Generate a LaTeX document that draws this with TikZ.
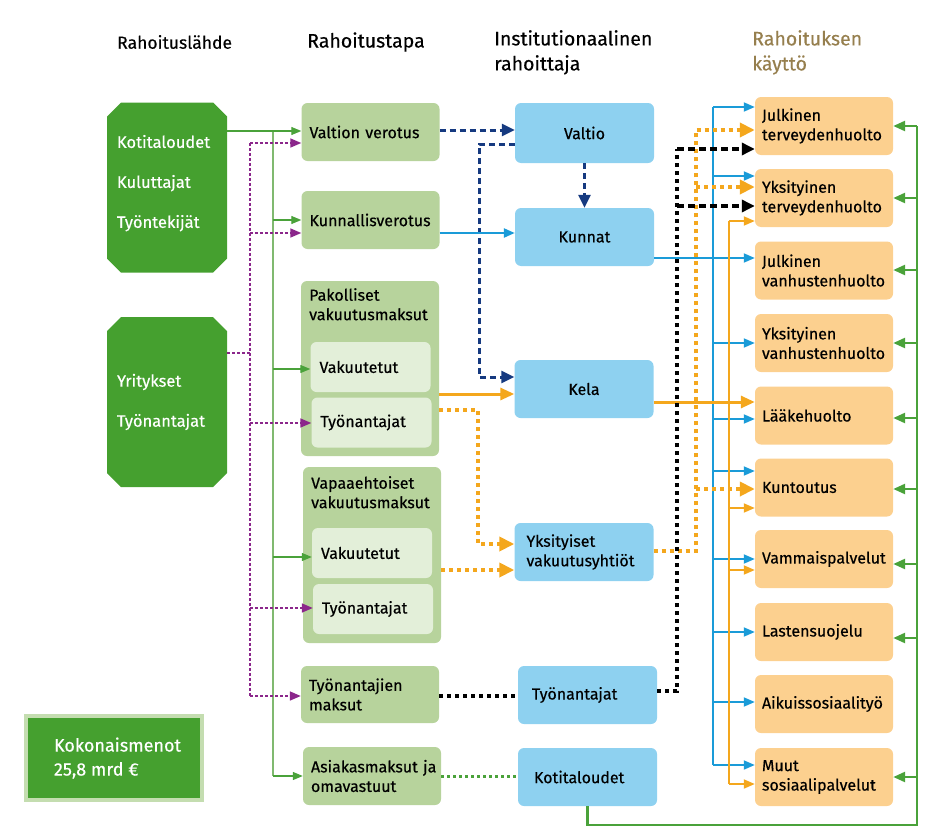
\documentclass[tikz,border=0pt]{standalone}
\usepackage{fontspec}
\setmainfont{Fira Sans}[FakeBold=0.35]
\usetikzlibrary{arrows.meta,shapes.misc,calc}
\definecolor{srcgreen}{RGB}{69,160,47}
\definecolor{totborder}{RGB}{196,221,176}
\definecolor{lgreen}{RGB}{183,211,156}
\definecolor{xlgreen}{RGB}{227,239,217}
\definecolor{lblue}{RGB}{142,209,240}
\definecolor{lorange}{RGB}{252,208,143}
\definecolor{hdrbrown}{RGB}{150,127,78}
\definecolor{cpurple}{RGB}{139,38,139}
\definecolor{cnavy}{RGB}{22,58,128}
\definecolor{cblue}{RGB}{26,155,216}
\definecolor{corange}{RGB}{244,167,29}
\definecolor{cgreen}{RGB}{74,162,58}
\definecolor{ctrunk}{RGB}{128,185,112}
\begin{document}
\begin{tikzpicture}[x=1pt,y=-1pt,
  font=\fontsize{16}{19.5}\selectfont,
  srcbox/.style={chamfered rectangle, chamfered rectangle xsep=7pt, chamfered rectangle ysep=7pt, fill=srcgreen, draw=none, text=white, inner sep=0pt, minimum width=120pt, minimum height=170pt, align=left, font=\fontsize{16.5}{20}\selectfont},
  gbox/.style={rectangle, fill=lgreen, rounded corners=6pt, inner xsep=8pt, inner ysep=0pt, text width=122pt, align=left, minimum height=58pt},
  ibox/.style={rectangle, fill=xlgreen, rounded corners=6pt, inner xsep=9pt, inner ysep=0pt, text width=102pt, align=left, minimum height=50pt},
  bbox/.style={rectangle, fill=lblue, rounded corners=6pt, inner xsep=12pt, inner ysep=0pt, text width=115pt, minimum height=58pt},
  obox/.style={rectangle, fill=lorange, rounded corners=6pt, inner xsep=7pt, inner ysep=0pt, text width=124pt, align=left, minimum height=58pt},
  hdr/.style={font=\fontsize{19.5}{25}\selectfont, align=left, inner sep=0pt},
  thin/.style={draw=cgreen, line width=1.2pt, -{Triangle[length=10pt,width=8pt]}},
  purp/.style={draw=cpurple, line width=1.6pt, dash pattern=on 2.5pt off 2.5pt},
  purpa/.style={purp, -{Triangle[length=11pt,width=9pt]}},
  navy/.style={draw=cnavy, line width=3pt, dash pattern=on 6pt off 4pt},
  navya/.style={navy, -{Triangle[length=13pt,width=12pt]}},
  bl/.style={draw=cblue, line width=1.8pt},
  bla/.style={bl, -{Triangle[length=11pt,width=9pt]}},
  orthick/.style={draw=corange, line width=3pt, -{Triangle[length=14pt,width=12pt]}},
  orthin/.style={draw=corange, line width=1.8pt},
  orthina/.style={orthin, -{Triangle[length=11pt,width=9pt]}},
  ordot/.style={draw=corange, line width=4pt, dash pattern=on 4pt off 4pt},
  ordota/.style={ordot, -{Triangle[length=15pt,width=14pt]}},
  bkdot/.style={draw=black, line width=4pt, dash pattern=on 4pt off 4pt},
  bkdash/.style={draw=black, line width=3.5pt, dash pattern=on 7pt off 4pt, -{Triangle[length=13pt,width=12pt]}},
  gdot/.style={draw=cgreen, line width=3pt, dash pattern=on 3pt off 3pt},
  gloop/.style={draw=cgreen, line width=2.5pt},
  gloopa/.style={gloop, -{Triangle[length=12pt,width=10pt]}}
]
\useasboundingbox (0,0) rectangle (932,835);

% headers
\node[hdr, anchor=west, font=\fontsize{17.5}{24}\selectfont] (h1) at (117,42) {Rahoituslähde};
\node[hdr, anchor=west] (h2) at (307,42) {Rahoitustapa};
\node[hdr, anchor=north west] (h3) at (494,30) {Institutionaalinen\\rahoittaja};
\node[hdr, anchor=north west, text=hdrbrown] (h4) at (752,30) {Rahoituksen\\käyttö};

% sources
\node[srcbox] (kot) at (167,187.5) {\parbox[c][105pt][t]{100pt}{Kotitaloudet\\[20pt]Kuluttajat\\[20pt]Työntekijät}};
\node[srcbox] (yri) at (167,402) {\parbox{100pt}{Yritykset\\[20pt]Työnantajat}};
\node[rectangle, fill=srcgreen, draw=totborder, line width=4pt, minimum width=176pt, minimum height=84pt, text=white, align=left, inner xsep=0pt, font=\fontsize{18}{24}\selectfont] (tot) at (114,758) {\parbox{120pt}{Kokonaismenot\\25,8 mrd €}};

% column 2
\node[gbox] (vv) at (370.5,132) {Valtion verotus};
\node[gbox] (kv) at (370.5,220) {Kunnallisverotus};
\node[gbox, minimum height=175pt] (pak) at (370,368.5) {};
\node[anchor=north west, inner sep=0pt, align=left] (pakt) at (309,288) {Pakolliset\\vakuutusmaksut};
\node[ibox] (pakV) at (370.5,367) {Vakuutetut};
\node[ibox] (pakT) at (371.5,422.5) {Työnantajat};
\node[gbox, minimum height=176pt] (vap) at (372,555) {};
\node[anchor=north west, inner sep=0pt, align=left] (vapt) at (311,476) {Vapaaehtoiset\\vakuutusmaksut};
\node[ibox] (vapV) at (372,553) {Vakuutetut};
\node[ibox] (vapT) at (373,609) {Työnantajat};
\node[gbox, minimum height=57pt] (tm) at (370,694.5) {Työnantajien\\maksut};
\node[gbox] (am) at (372,776) {\mbox{Asiakasmaksut ja}\\omavastuut};

% column 3
\node[bbox, align=center, minimum height=60pt] (valtio) at (584.5,133) {Valtio};
\node[bbox, align=center] (kunnat) at (584.5,237) {Kunnat};
\node[bbox, align=center] (kela) at (584,389) {Kela};
\node[bbox, align=left] (yvy) at (584,552) {Yksityiset\\vakuutusyhtiöt};
\node[bbox, align=left, inner xsep=14pt, text width=111pt] (ty) at (587.5,695) {Työnantajat};
\node[bbox, align=left, inner xsep=16pt, text width=107pt] (kt) at (587.5,777) {Kotitaloudet};

% column 4
\node[obox] (o1) at (824,126) {Julkinen\\terveydenhuolto};
\node[obox] (o2) at (824,198) {Yksityinen\\terveydenhuolto};
\node[obox] (o3) at (824,270.5) {Julkinen\\vanhustenhuolto};
\node[obox] (o4) at (824,343) {Yksityinen\\vanhustenhuolto};
\node[obox] (o5) at (824,415.5) {Lääkehuolto};
\node[obox] (o6) at (824,487.5) {Kuntoutus};
\node[obox] (o7) at (824,559) {Vammaispalvelut};
\node[obox] (o8) at (824,632) {Lastensuojelu};
\node[obox] (o9) at (824,704) {Aikuissosiaalityö};
\node[obox] (o10) at (824,777) {Muut\\sosiaalipalvelut};

% trunk coordinates
\coordinate (gx) at (273,0);
\coordinate (px) at (250,0);
\coordinate (nx) at (479,0);
\coordinate (bx) at (713,0);
\coordinate (ox) at (729,0);
\coordinate (odx) at (696,0);
\coordinate (okx) at (478,0);
\coordinate (kx) at (677,0);
\coordinate (rx) at (917,0);

% green thin from households
\draw[draw=ctrunk, line width=1.2pt] (gx |- 0,131) -- (gx |- 0,776);
\draw[thin] (kot.east |- 0,131) -- (vv.west |- 0,131);
\draw[thin] (gx |- 0,220) -- (kv.west |- 0,220);
\draw[thin] (gx |- 0,369) -- (pakV.west |- 0,369);
\draw[thin] (gx |- 0,557) -- (vapV.west |- 0,557);
\draw[thin] (gx |- 0,776) -- (am.west |- 0,776);

% purple from companies
\draw[purp] (yri.east |- 0,353) -- (px |- 0,353);
\draw[purp] (px |- 0,143) -- (px |- 0,696);
\draw[purpa] (px |- 0,143) -- (vv.west |- 0,143);
\draw[purpa] (px |- 0,233) -- (kv.west |- 0,233);
\draw[purpa] (px |- 0,423) -- (pakT.west |- 0,423);
\draw[purpa] (px |- 0,608) -- (vapT.west |- 0,608);
\draw[purpa] (px |- 0,696) -- (tm.west |- 0,696);

% navy
\draw[navya] (vv.east |- 0,130) -- (valtio.west |- 0,130);
\draw[navya] (valtio.west |- 0,144) -- (nx |- 0,144) -- (nx |- 0,377) -- (kela.west |- 0,377);
\draw[navya] (valtio.south) -- (kunnat.north);

% blue
\draw[bla, line width=2.3pt] (kv.east |- 0,233) -- (kunnat.west |- 0,233);
\draw[bla] (kunnat.east |- 0,258) -- (o3.west |- 0,258);
\draw[bl] (bx |- 0,107) -- (bx |- 0,765);
\draw[bla] (bx |- 0,107) -- (o1.west |- 0,107);
\draw[bla] (bx |- 0,176) -- (o2.west |- 0,176);
\draw[bla] (bx |- 0,343) -- (o4.west |- 0,343);
\draw[bla] (bx |- 0,419) -- (o5.west |- 0,419);
\draw[bla] (bx |- 0,471) -- (o6.west |- 0,471);
\draw[bla] (bx |- 0,559) -- (o7.west |- 0,559);
\draw[bla] (bx |- 0,632) -- (o8.west |- 0,632);
\draw[bla] (bx |- 0,702) -- (o9.west |- 0,702);
\draw[bla] (bx |- 0,765) -- (o10.west |- 0,765);

% orange solid
\draw[orthick] (pak.east |- 0,394) -- (kela.west |- 0,394);
\draw[orthick] (kela.east |- 0,402) -- (o5.west |- 0,402);
\draw[orthin] (ox |- 0,221) -- (ox |- 0,784);
\draw[orthina] (ox |- 0,221) -- (o2.west |- 0,221);
\draw[orthina] (ox |- 0,508) -- (o6.west |- 0,508);
\draw[orthina] (ox |- 0,570) -- (o7.west |- 0,570);
\draw[orthina] (ox |- 0,784) -- (o10.west |- 0,784);

% orange dotted
\draw[ordota] (pak.east |- 0,410) -- (okx |- 0,410) -- (okx |- 0,544) -- (yvy.west |- 0,544);
\draw[ordota] (vap.east |- 0,570) -- (yvy.west |- 0,570);
\draw[ordota] (yvy.east |- 0,551) -- (odx |- 0,551) -- (odx |- 0,130) -- (o1.west |- 0,130);
\draw[ordota] (odx |- 0,187) -- (o2.west |- 0,187);
\draw[ordota] (odx |- 0,489) -- (o6.west |- 0,489);

% black dotted
\draw[bkdot] (tm.east |- 0,696) -- (ty.west |- 0,696);
\draw[bkdot] (ty.east |- 0,691) -- (kx |- 0,691) -- (kx |- 0,149);
\draw[bkdash] (kx |- 0,149) -- (o1.west |- 0,149);
\draw[bkdash] (kx |- 0,206) -- (o2.west |- 0,206);

% green dotted and loop
\draw[gdot] (am.east |- 0,776) -- (kt.west |- 0,776);
\draw[gloop] (kt.south) -- (kt.south |- 0,825) -- (rx |- 0,825) -- (rx |- 0,126);
\draw[gloopa] (rx |- 0,126) -- (o1.east |- 0,126);
\draw[gloopa] (rx |- 0,198) -- (o2.east |- 0,198);
\draw[gloopa] (rx |- 0,270) -- (o3.east |- 0,270);
\draw[gloopa] (rx |- 0,343) -- (o4.east |- 0,343);
\draw[gloopa] (rx |- 0,418) -- (o5.east |- 0,418);
\draw[gloopa] (rx |- 0,489) -- (o6.east |- 0,489);
\draw[gloopa] (rx |- 0,564) -- (o7.east |- 0,564);
\draw[gloopa] (rx |- 0,638) -- (o8.east |- 0,638);
\draw[gloopa] (rx |- 0,777) -- (o10.east |- 0,777);
\end{tikzpicture}
\end{document}
